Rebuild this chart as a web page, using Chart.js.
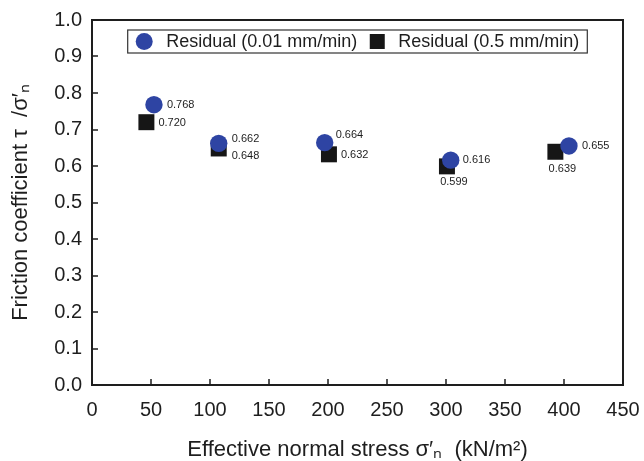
<!DOCTYPE html>
<html><head><meta charset="utf-8">
<script src="https://cdn.jsdelivr.net/npm/chart.js@4"></script>
<style>html,body{margin:0;padding:0;background:#fff}#wrap{width:644px;height:461px}</style>
</head><body><div id="wrap"><canvas id="c" width="644" height="461"></canvas></div>
<script>
// ---- data ----
const seriesNames = ['Residual (0.01 mm/min)', 'Residual (0.5 mm/min)'];
const stressSlow = [52.5, 107.4, 197.2, 304.0, 404.2];
const frictionSlow = [0.768, 0.662, 0.664, 0.616, 0.655];
const stressFast = [46.1, 107.4, 200.8, 300.8, 392.7];
const frictionFast = [0.720, 0.648, 0.632, 0.599, 0.639];
const xTickValues = [0, 50, 100, 150, 200, 250, 300, 350, 400, 450];
const yTickValues = [0.0, 0.1, 0.2, 0.3, 0.4, 0.5, 0.6, 0.7, 0.8, 0.9, 1.0];
const xTitle = 'Effective normal stress σ′ₙ  (kN/m²)';
const yTitle = 'Friction coefficient τ  /σ′ₙ';

const FONT = "'Liberation Sans', Arial, Helvetica, sans-serif";
const INK = '#1e1e1e';
const BLUE = '#2e44a3';
const BLACK = '#161616';

const toPoints = (xs, ys) => xs.map((x, i) => ({x: x, y: ys[i]}));

// frame + inward ticks
const framePlugin = {
  id: 'frame',
  afterDraw(chart) {
    const {ctx, chartArea: a, scales} = chart;
    ctx.save();
    ctx.strokeStyle = INK;
    ctx.lineWidth = 2;
    ctx.strokeRect(a.left, a.top, a.right - a.left, a.bottom - a.top);
    ctx.lineWidth = 1.5;
    ctx.beginPath();
    yTickValues.forEach(v => {
      const y = Math.round(scales.y.getPixelForValue(v));
      ctx.moveTo(a.left, y); ctx.lineTo(a.left + 6, y);
    });
    xTickValues.forEach(v => {
      const x = Math.round(scales.x.getPixelForValue(v));
      ctx.moveTo(x, a.bottom); ctx.lineTo(x, a.bottom - 6);
    });
    ctx.stroke();
    ctx.restore();
  }
};

// boxed legend inside the plot
const boxLegendPlugin = {
  id: 'boxLegend',
  afterDraw(chart, args, opts) {
    const {ctx, chartArea: a} = chart;
    ctx.save();
    ctx.font = '18px ' + FONT;
    const ds = chart.data.datasets;
    const markW = [17, 15];
    const gapText = 13.5, gapItem = 12.5, pad = 8;
    let total = pad * 2;
    ds.forEach((d, i) => {
      total += markW[i] + gapText + ctx.measureText(d.label).width;
      if (i < ds.length - 1) total += gapItem;
    });
    const cx = (a.left + a.right) / 2;
    const left = cx - total / 2;
    const top = a.top + 10, h = 23;
    const mid = top + h / 2;
    ctx.fillStyle = '#fff';
    ctx.fillRect(left, top, total, h);
    ctx.strokeStyle = '#333';
    ctx.lineWidth = 1.2;
    ctx.strokeRect(left, top, total, h);
    let x = left + pad;
    ds.forEach((d, i) => {
      ctx.fillStyle = d.backgroundColor;
      if (d.pointStyle === 'circle') {
        ctx.beginPath();
        ctx.arc(x + markW[i] / 2, mid, markW[i] / 2, 0, Math.PI * 2);
        ctx.fill();
      } else {
        ctx.fillRect(x, mid - markW[i] / 2, markW[i], markW[i]);
      }
      x += markW[i] + gapText;
      ctx.fillStyle = INK;
      ctx.textBaseline = 'middle';
      ctx.textAlign = 'left';
      ctx.fillText(d.label, x, mid + 1);
      x += ctx.measureText(d.label).width + gapItem;
    });
    ctx.restore();
  }
};

// value labels next to the markers
const valueLabelPlugin = {
  id: 'valueLabels',
  afterDatasetsDraw(chart, args, opts) {
    const {ctx} = chart;
    ctx.save();
    ctx.font = '11px ' + FONT;
    ctx.fillStyle = INK;
    ctx.textBaseline = 'middle';
    chart.data.datasets.forEach((d, i) => {
      const meta = chart.getDatasetMeta(i);
      meta.data.forEach((el, j) => {
        const [dx, dy, align] = opts.placement[i][j];
        ctx.textAlign = align;
        ctx.fillText(d.data[j].y.toFixed(3), el.x + dx, el.y + dy);
      });
    });
    ctx.restore();
  }
};

new Chart(document.getElementById('c'), {
  type: 'scatter',
  data: {
    datasets: [
      {
        label: seriesNames[0],
        data: toPoints(stressSlow, frictionSlow),
        pointStyle: 'circle',
        backgroundColor: BLUE,
        borderColor: BLUE,
        borderWidth: 0,
        pointRadius: 8.7,
        pointHoverRadius: 8.7
      },
      {
        label: seriesNames[1],
        data: toPoints(stressFast, frictionFast),
        pointStyle: 'rect',
        backgroundColor: BLACK,
        borderColor: BLACK,
        borderWidth: 0,
        pointRadius: 11.3,
        pointHoverRadius: 11.3
      }
    ]
  },
  options: {
    responsive: false,
    animation: false,
    devicePixelRatio: 1,
    layout: {padding: {left: 0, right: 21, top: 20, bottom: 0}},
    plugins: {
      legend: {display: false},
      tooltip: {enabled: false},
      valueLabels: {
        placement: [
          [[13, 0, 'left'], [13, -4, 'left'], [11, -8, 'left'], [12, 0, 'left'], [13, 0, 'left']],
          [[12, 1, 'left'], [13, 7, 'left'], [12, 1, 'left'], [7, 16, 'center'], [7, 17, 'center']]
        ]
      }
    },
    scales: {
      x: {
        type: 'linear',
        min: 0, max: 450,
        afterBuildTicks: s => { s.ticks = xTickValues.map(v => ({value: v})); },
        afterFit: s => { s.height = 76; s.paddingLeft = 0; s.paddingRight = 0; },
        grid: {display: false, drawTicks: false},
        border: {display: false},
        ticks: {padding: 13, color: INK, font: {family: FONT, size: 20}, maxRotation: 0,
                callback: v => String(v)},
        title: {display: true, text: xTitle, color: INK,
                font: {family: FONT, size: 22, lineHeight: 1.0}, padding: {top: 0, bottom: 0}}
      },
      y: {
        type: 'linear',
        min: 0, max: 1,
        afterBuildTicks: s => { s.ticks = yTickValues.map(v => ({value: v})); },
        afterFit: s => { s.width = 92; s.paddingTop = 0; s.paddingBottom = 0; },
        grid: {display: false, drawTicks: false},
        border: {display: false},
        ticks: {padding: 10, color: INK, font: {family: FONT, size: 20},
                callback: v => Number(v).toFixed(1)},
        title: {display: true, text: yTitle, color: INK,
                font: {family: FONT, size: 22, lineHeight: 1.0}, padding: {top: 10, bottom: 0}}
      }
    }
  },
  plugins: [framePlugin, boxLegendPlugin, valueLabelPlugin]
});
</script>
</body></html>
